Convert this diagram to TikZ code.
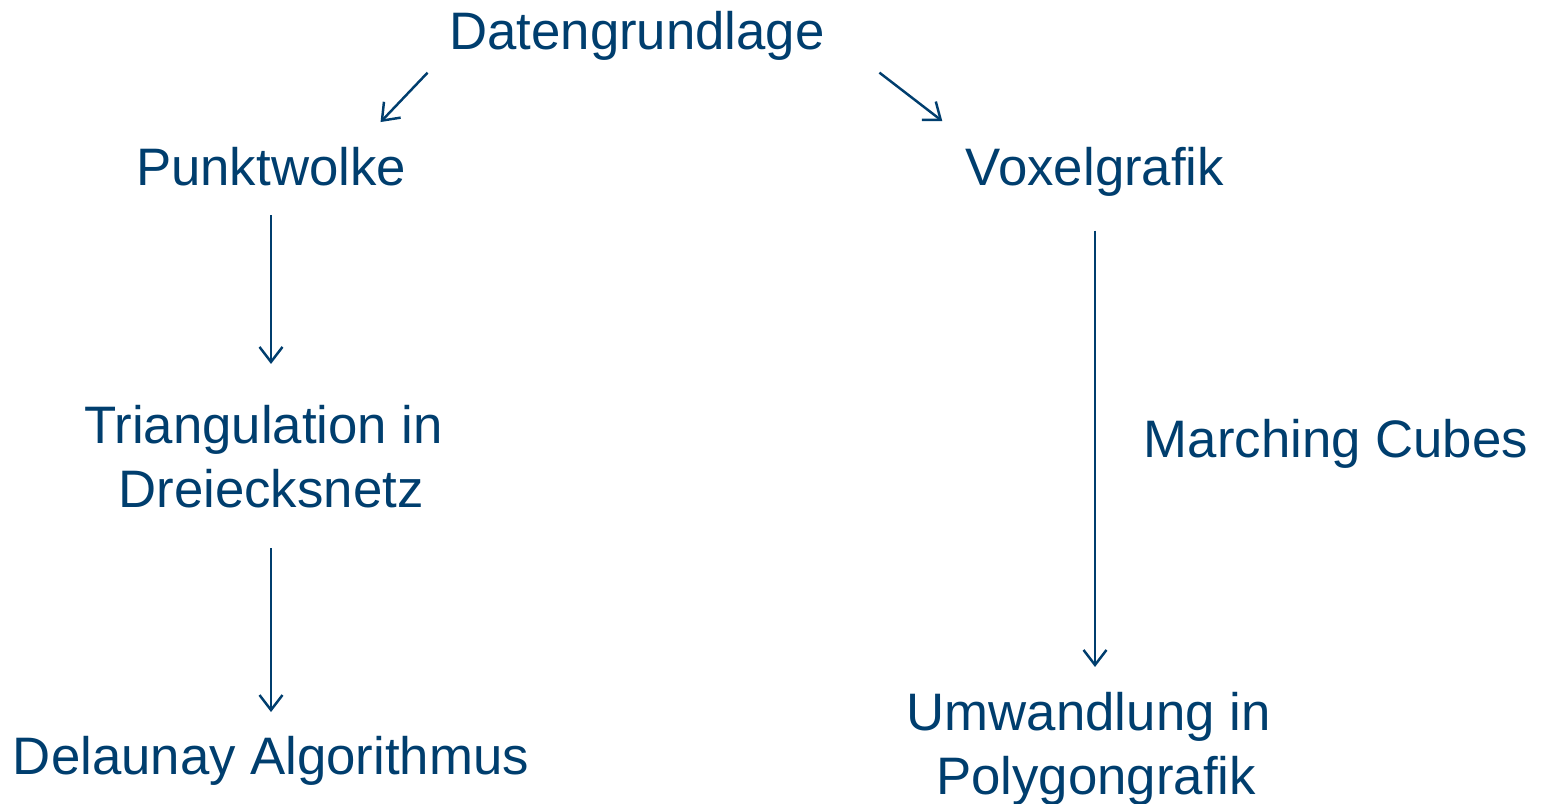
\documentclass[tikz,border=0pt]{standalone}
\usepackage{fontspec}
\setmainfont{Liberation Sans}
\usepackage{xcolor}
\usetikzlibrary{arrows.meta}
\definecolor{navy}{HTML}{003E6E}

\begin{document}
\begin{tikzpicture}[x=0.01cm, y=-0.01cm]
  % 定义样式
  \tikzset{word/.style = {text=navy, inner sep=0pt, font=\fontsize{15}{18}\selectfont}}
  \tikzset{words/.style = {word, align=center, anchor=north}}
  \tikzset{arrow/.style = {draw=navy, line width=0.7pt, -{Straight Barb[length=1.5mm, width=2.3mm]}}}

  \useasboundingbox (0,0) rectangle (1548,804);

  % 定义点
  \node[word, anchor=base] (daten) at (637,50) {Datengrundlage};
  \node[word, anchor=base] (punkt) at (271,186) {Punktwolke};
  \node[word, anchor=base] (voxel) at (1095,186) {Voxelgrafik};
  \node[words] (tri) at (271,405) {Triangulation in\hspace*{0.278em}\\Dreiecksnetz};
  \node[word, anchor=base] (delaunay) at (271,775) {Delaunay Algorithmus};
  \node[word, anchor=base] (cubes) at (1336,458) {Marching Cubes};
  \node[words] (umw) at (1096,692) {Umwandlung in\hspace*{0.278em}\\Polygongrafik};

  % 定义边
  \draw[arrow] ([xshift=-0.21cm, yshift=-0.11cm]daten.south west) -- ([xshift=-0.26cm, yshift=0.25cm]punkt.north east);
  \draw[arrow] ([xshift=0.54cm, yshift=-0.11cm]daten.south east) -- ([xshift=-0.23cm, yshift=0.26cm]voxel.north west);
  \draw[arrow, shorten <=0.28cm, shorten >=0.41cm] (punkt.south) -- (punkt.south |- tri.north);
  \draw[arrow, shorten <=0.40cm, shorten >=0.24cm] (delaunay.north |- tri.south) -- (delaunay.north);
  \draw[arrow, shorten <=0.33cm, shorten >=0.25cm] (voxel.south) -- (voxel.south |- umw.north);
\end{tikzpicture}
\end{document}
